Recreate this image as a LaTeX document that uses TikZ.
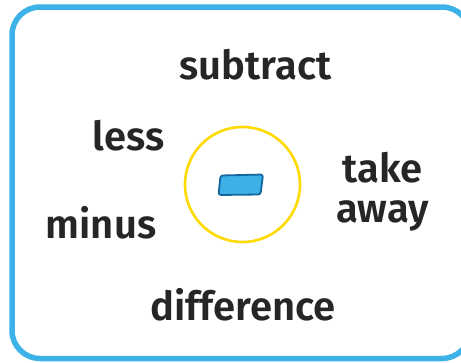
\documentclass[tikz,border=0pt]{standalone}
\usepackage{fontspec}
\newfontfamily\wordfont{Fira Sans SemiBold}
\definecolor{frameblue}{HTML}{3DB2E8}
\definecolor{ringyellow}{HTML}{FFDA00}
\definecolor{signfill}{HTML}{3DB0E5}
\definecolor{signedge}{HTML}{14679E}
\definecolor{wordgray}{HTML}{262626}
\tikzset{
  word/.style={anchor=base, inner sep=0pt, text=wordgray, font=\wordfont\fontsize{40}{44}\selectfont},
  frame/.style={draw=frameblue, line width=5.5pt, rounded corners=28pt, fill=white},
  ring/.style={draw=ringyellow, line width=2.6pt},
  sign/.style={draw=signedge, fill=signfill, line width=1.8pt, rounded corners=2.5pt, line join=round}
}
\begin{document}
\begin{tikzpicture}[x=1pt,y=-1pt]
\useasboundingbox (0,0) rectangle (461,362);
\draw[frame] (12,7) rectangle (470,358.5);
\node[ring, circle, minimum size=115pt, inner sep=0pt] (ring) at (242.5,184.5) {};
\draw[sign] (220.5,175.5) -- (263,174.5) -- (260.5,194.5) -- (218.5,195) -- cycle;
\node[word] (subtract) at (255.5,79) {subtract};
\node[word] (less) at (128.5,150) {less};
\node[word] (minus) at (101,238) {minus};
\node[word] (take) at (382.5,182) {take};
\node[word] (away) at (382.5,222) {away};
\node[word] (difference) at (243,320) {difference};
\end{tikzpicture}
\end{document}
